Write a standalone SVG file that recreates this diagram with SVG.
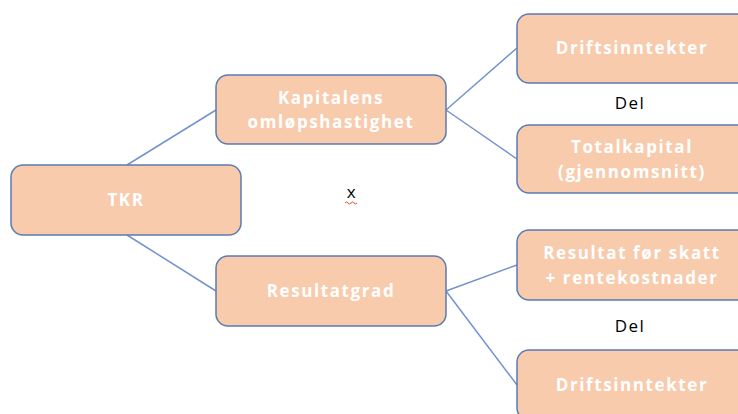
<svg xmlns="http://www.w3.org/2000/svg" width="738" height="414" viewBox="0 0 738 414">
<style>
.box{fill:#F8CBAD;stroke:#5B7BB3;stroke-width:1.5}
.lbl{font-family:"Open Sans","Liberation Sans",sans-serif;font-weight:bold;font-size:17px;letter-spacing:1.6px;fill:#FFFFFF;text-anchor:middle}
.plain{font-family:"Open Sans","Liberation Sans",sans-serif;font-size:17px;letter-spacing:1.5px;fill:#000000;text-anchor:middle}
.conn{stroke:#7393CC;stroke-width:1.5;fill:none}
</style>
<rect width="738" height="414" fill="#FFFFFF"/>
<g id="connectors">
<line class="conn" x1="127" y1="165" x2="216" y2="110"/>
<line class="conn" x1="127" y1="235" x2="216" y2="291"/>
<line class="conn" x1="446" y1="110" x2="517" y2="48"/>
<line class="conn" x1="446" y1="110" x2="517" y2="159"/>
<line class="conn" x1="446" y1="291" x2="517" y2="265"/>
<line class="conn" x1="446" y1="291" x2="517" y2="385"/>
</g>
<g id="tkr">
<rect class="box" x="11" y="165" width="230" height="70" rx="12"/>
<text class="lbl" x="126" y="206">TKR</text>
</g>
<g id="kapitalens">
<rect class="box" x="216" y="75" width="230" height="69" rx="12"/>
<text class="lbl" x="331" y="104">Kapitalens</text>
<text class="lbl" x="331" y="128">omløpshastighet</text>
</g>
<g id="resultatgrad">
<rect class="box" x="216" y="256" width="230" height="70" rx="12"/>
<text class="lbl" x="331" y="297">Resultatgrad</text>
</g>
<g id="driftsinntekter1">
<rect class="box" x="517" y="14" width="232" height="69" rx="12"/>
<text class="lbl" x="632" y="54">Driftsinntekter</text>
</g>
<g id="totalkapital">
<rect class="box" x="517" y="125" width="232" height="68" rx="12"/>
<text class="lbl" x="632" y="153">Totalkapital</text>
<text class="lbl" x="632" y="178">(gjennomsnitt)</text>
</g>
<g id="resultatfor">
<rect class="box" x="517" y="230" width="232" height="70" rx="12"/>
<text class="lbl" x="632" y="259">Resultat før skatt</text>
<text class="lbl" x="632" y="284">+ rentekostnader</text>
</g>
<g id="driftsinntekter2">
<rect class="box" x="517" y="350" width="232" height="70" rx="12"/>
<text class="lbl" x="632" y="391">Driftsinntekter</text>
</g>
<g id="del1"><text class="plain" x="630" y="109">Del</text></g>
<g id="del2"><text class="plain" x="630" y="332">Del</text></g>
<g id="times">
<text class="plain" x="352" y="198">x</text>
<path d="M345,203 q1.5,-2 3,0 t3,0 t3,0 t3,0" stroke="#F04040" stroke-width="1" fill="none"/>
</g>
</svg>
